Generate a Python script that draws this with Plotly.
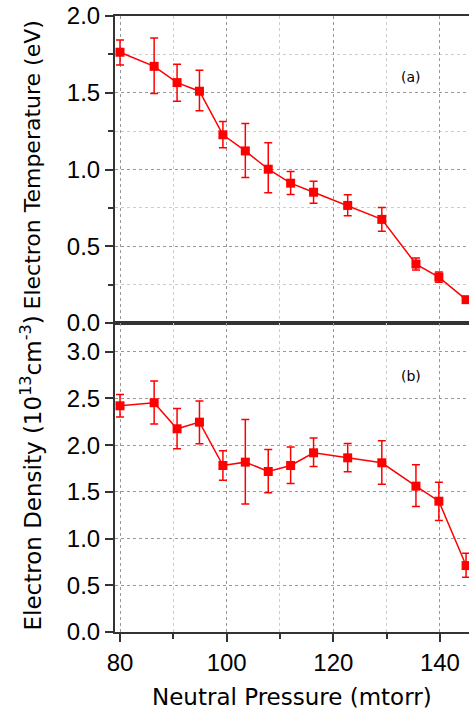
import plotly.graph_objects as go

pressure = [80.0, 86.4, 90.7, 94.9, 99.3, 103.5, 107.8, 112.0, 116.3, 122.7, 129.1, 135.5, 139.8, 144.9]

temp = [1.764, 1.672, 1.566, 1.510, 1.226, 1.121, 1.002, 0.911, 0.852, 0.766, 0.675, 0.384, 0.299, 0.152]
temp_hi = [1.844, 1.857, 1.685, 1.646, 1.312, 1.299, 1.174, 0.987, 0.924, 0.835, 0.753, 0.423, 0.332, 0.170]
temp_lo = [1.681, 1.495, 1.445, 1.382, 1.141, 0.948, 0.848, 0.837, 0.781, 0.698, 0.597, 0.345, 0.265, 0.134]

dens = [2.421, 2.454, 2.175, 2.246, 1.782, 1.818, 1.718, 1.782, 1.918, 1.864, 1.811, 1.561, 1.400, 0.711]
dens_hi = [2.543, 2.686, 2.393, 2.471, 1.939, 2.275, 1.954, 1.979, 2.075, 2.018, 2.046, 1.789, 1.604, 0.843]
dens_lo = [2.300, 2.225, 1.961, 2.014, 1.625, 1.371, 1.489, 1.589, 1.771, 1.714, 1.582, 1.343, 1.193, 0.586]

RED = "#ff0000"
AX = "#333333"
FONT = "Liberation Sans"
TFONT = "DejaVu Sans"


def errs(v, hi, lo):
    return [h - a for a, h in zip(v, hi)], [a - l for a, l in zip(v, lo)]


fig = go.Figure()
tp, tm = errs(temp, temp_hi, temp_lo)
dp, dm = errs(dens, dens_hi, dens_lo)

fig.add_trace(go.Scatter(
    x=pressure, y=temp, mode="lines+markers", xaxis="x", yaxis="y",
    line=dict(color=RED, width=1.5),
    marker=dict(symbol="square", size=9, color=RED),
    error_y=dict(type="data", symmetric=False, array=tp, arrayminus=tm,
                 color=RED, thickness=1.5, width=4),
    cliponaxis=False, showlegend=False))

fig.add_trace(go.Scatter(
    x=pressure, y=dens, mode="lines+markers", xaxis="x2", yaxis="y2",
    line=dict(color=RED, width=1.5),
    marker=dict(symbol="square", size=9, color=RED),
    error_y=dict(type="data", symmetric=False, array=dp, arrayminus=dm,
                 color=RED, thickness=1.5, width=4),
    cliponaxis=False, showlegend=False))

split = 0.5016
xcommon = dict(range=[79.06, 145.45], dtick=20, tick0=80,
               showgrid=True, gridcolor="#999999", griddash="dot", gridwidth=1,
               showline=True, linecolor=AX, linewidth=2, mirror=True,
               zeroline=False)

fig.update_layout(
    width=469, height=710,
    margin=dict(l=115, r=0, t=16, b=78),
    paper_bgcolor="white", plot_bgcolor="white",
    font=dict(family=FONT, size=24, color="black"),
    xaxis=dict(**xcommon, domain=[0, 1], anchor="y", showticklabels=False,
               ticks="",
               minor=dict(dtick=10, showgrid=True, gridcolor="#cccccc",
                          griddash="dot", gridwidth=1)),
    yaxis=dict(domain=[split, 1], anchor="x", range=[0, 2.0], dtick=0.5,
               tickformat=".1f", ticks="outside", ticklen=8, tickwidth=2,
               tickcolor=AX,
               showline=True, linecolor=AX, linewidth=2, zeroline=False,
               showgrid=True, gridcolor="#999999", griddash="dot",
               minor=dict(dtick=0.25, ticks="outside", ticklen=5, tickwidth=1.5,
                          tickcolor=AX, showgrid=True, gridcolor="#cccccc",
                          griddash="dot")),
    xaxis2=dict(**xcommon, domain=[0, 1], anchor="y2", ticks="outside",
                ticklen=8, tickwidth=2, tickcolor=AX,
                minor=dict(dtick=10, showgrid=True, gridcolor="#cccccc",
                           griddash="dot", gridwidth=1, ticks="outside",
                           ticklen=5, tickwidth=1.5, tickcolor=AX)),
    yaxis2=dict(domain=[0, split], anchor="x2", range=[0, 3.307], dtick=0.5,
                tickformat=".1f", ticks="outside", ticklen=8, tickwidth=2,
                tickcolor=AX,
                showline=True, linecolor=AX, linewidth=2, zeroline=False,
                showgrid=True, gridcolor="#999999", griddash="dot"),
)

fig.add_annotation(text="Electron Temperature (eV)", xref="paper", yref="paper",
                   x=0, y=(split + 1) / 2, xshift=-82, yshift=4, textangle=-90,
                   xanchor="center", yanchor="middle",
                   showarrow=False, font=dict(size=22, family=TFONT))
fig.add_annotation(text="Electron Density (10<sup>13</sup>cm<sup>-3</sup>)",
                   xref="paper", yref="paper",
                   x=0, y=split / 2, xshift=-84, yshift=4, textangle=-90,
                   xanchor="center", yanchor="middle",
                   showarrow=False, font=dict(size=23, family=TFONT))
fig.add_annotation(text="Neutral Pressure (mtorr)", xref="paper", yref="paper",
                   x=0.5, y=0, xshift=0, yshift=-65, xanchor="center",
                   yanchor="middle",
                   showarrow=False, font=dict(size=23, family=TFONT))
fig.add_annotation(text="(a)", xref="x", yref="y", x=134.6, y=1.6,
                   showarrow=False, font=dict(size=14, family=TFONT))
fig.add_annotation(text="(b)", xref="x2", yref="y2", x=134.6, y=2.74,
                   showarrow=False, font=dict(size=14, family=TFONT))

fig.write_html("out.html", config={"displayModeBar": False},
               post_script="document.body.style.margin='0';"
                           "document.body.style.overflow='hidden';")
